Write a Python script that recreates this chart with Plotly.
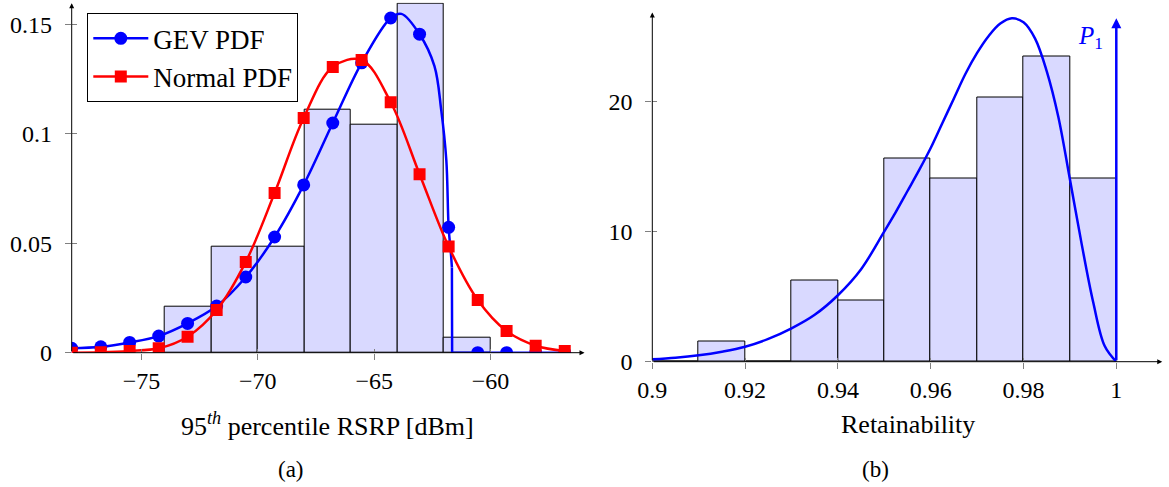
import plotly.graph_objects as go

# ---------------- data: left panel (a) ----------------
rsrp_bin_left = [-74, -72, -70, -68, -66, -64, -62]
rsrp_counts = [3, 7, 7, 16, 15, 23, 1]
rsrp_bin_width = 2
rsrp_total = 72

marker_x = [-78.0, -76.75, -75.51, -74.26, -73.02, -71.77, -70.52, -69.28, -68.03,
            -66.78, -65.54, -64.29, -63.05, -61.80, -60.55, -59.31, -58.06, -56.81]
gev_marker_y = [0.0020, 0.0027, 0.0047, 0.0076, 0.0134, 0.0213, 0.0346, 0.0529, 0.0767,
                0.105, 0.1325, 0.153, 0.1456, 0.0573, 0.0, 0.0, 0.0, 0.0]
normal_marker_y = [0.0000, 0.0002, 0.0008, 0.0020, 0.0073, 0.0195, 0.0415, 0.073, 0.1073,
                   0.1306, 0.1338, 0.1145, 0.0816, 0.0485, 0.0241, 0.0099, 0.0032, 0.0008]

gev_curve_x = [-78.0, -76.75, -75.51, -74.26, -73.02, -71.77, -70.52, -69.28, -68.03,
               -66.78, -65.54, -64.29, -63.83, -63.05, -62.41, -62.12, -61.90, -61.80,
               -61.70, -61.66]
gev_curve_y = [0.0020, 0.0027, 0.0047, 0.0076, 0.0134, 0.0213, 0.0346, 0.0529, 0.0767,
               0.105, 0.1325, 0.153, 0.1549, 0.1456, 0.131, 0.111, 0.088, 0.0573,
               0.045, 0.039]
gev_tail_x = [-61.66, -61.65, -56.81]
gev_tail_y = [0.039, 0.0, 0.0]

# ---------------- data: right panel (b) ----------------
ret_bin_left = [0.90, 0.91, 0.92, 0.93, 0.94, 0.95, 0.96, 0.97, 0.98, 0.99]
ret_counts = [0, 1, 0, 4, 3, 10, 9, 13, 15, 9]
ret_bin_width = 0.01
ret_total = 64

ret_curve_x = [0.9000, 0.9050, 0.9100, 0.9150, 0.9200, 0.9250, 0.9300, 0.9350, 0.9400,
               0.9450, 0.9500, 0.9525, 0.9550, 0.9575, 0.9600, 0.9625, 0.9650, 0.9675,
               0.9700, 0.9725, 0.9750, 0.9775, 0.9800, 0.9825, 0.9850, 0.9875, 0.9900,
               0.9925, 0.9950, 0.9975, 1.0000]
ret_curve_y = [0.18, 0.30, 0.49, 0.77, 1.15, 1.75, 2.56, 3.6, 5.1,
               7.1, 10.0, 11.5, 13.1, 14.7, 16.4, 18.3, 20.2, 22.1,
               23.7, 25.0, 25.95, 26.35, 26.05, 24.8, 22.3, 18.8, 14.0,
               9.1, 4.6, 1.2, 0.0]
p1_height = 26.35

x_ticks_a = [-75, -70, -65, -60]
x_ticktext_a = ["\u221275", "\u221270", "\u221265", "\u221260"]
y_ticks_a = [0, 0.05, 0.1, 0.15]
y_ticktext_a = ["0", "0.05", "0.1", "0.15"]
x_ticks_b = [0.9, 0.92, 0.94, 0.96, 0.98, 1.0]
x_ticktext_b = ["0.9", "0.92", "0.94", "0.96", "0.98", "1"]
y_ticks_b = [0, 10, 20]

BLUE = "rgb(0,0,255)"
RED = "rgb(255,0,0)"
FILL = "rgb(217,217,255)"
FONT = "Liberation Serif"

W, H = 1169, 487


def px(xp):
    return xp / W


def py(yp):
    return (H - yp) / H


fig = go.Figure()

# histograms
fig.add_trace(go.Bar(
    x=[b + rsrp_bin_width / 2 for b in rsrp_bin_left],
    y=[c / rsrp_total / rsrp_bin_width for c in rsrp_counts],
    width=rsrp_bin_width, marker=dict(color=FILL, line=dict(color="black", width=1)),
    showlegend=False, xaxis="x", yaxis="y", hoverinfo="skip"))
fig.add_trace(go.Bar(
    x=[b + ret_bin_width / 2 for b in ret_bin_left],
    y=[c / ret_total / ret_bin_width for c in ret_counts],
    width=ret_bin_width, marker=dict(color=FILL, line=dict(color="black", width=1)),
    showlegend=False, xaxis="x2", yaxis="y2", hoverinfo="skip"))

# GEV curve (a)
fig.add_trace(go.Scatter(x=gev_curve_x, y=gev_curve_y, mode="lines",
                         line=dict(color=BLUE, width=2.5, shape="spline", smoothing=1.0),
                         showlegend=False, xaxis="x", yaxis="y"))
fig.add_trace(go.Scatter(x=gev_tail_x, y=gev_tail_y, mode="lines",
                         line=dict(color=BLUE, width=2.5),
                         showlegend=False, xaxis="x", yaxis="y"))
fig.add_trace(go.Scatter(x=marker_x, y=gev_marker_y, mode="markers",
                         marker=dict(color=BLUE, size=13, symbol="circle"),
                         showlegend=False, xaxis="x", yaxis="y"))
# Normal curve (a)
fig.add_trace(go.Scatter(x=marker_x, y=normal_marker_y, mode="lines+markers",
                         line=dict(color=RED, width=2.5, shape="spline", smoothing=1.0),
                         marker=dict(color=RED, size=12, symbol="square"),
                         showlegend=False, xaxis="x", yaxis="y"))
# legend entries
fig.add_trace(go.Scatter(x=[None], y=[None], mode="lines+markers", name="GEV PDF",
                         line=dict(color=BLUE, width=2.5),
                         marker=dict(color=BLUE, size=13, symbol="circle"),
                         xaxis="x", yaxis="y"))
fig.add_trace(go.Scatter(x=[None], y=[None], mode="lines+markers", name="Normal PDF",
                         line=dict(color=RED, width=2.5),
                         marker=dict(color=RED, size=12, symbol="square"),
                         xaxis="x", yaxis="y"))

# curve (b)
fig.add_trace(go.Scatter(x=ret_curve_x, y=ret_curve_y, mode="lines",
                         line=dict(color=BLUE, width=2.5, shape="spline", smoothing=1.0),
                         showlegend=False, xaxis="x2", yaxis="y2"))

# empty helper traces so the inner-tick overlay axes are drawn
fig.add_trace(go.Scatter(x=[None], y=[None], xaxis="x3", yaxis="y3", showlegend=False,
                         hoverinfo="skip"))
fig.add_trace(go.Scatter(x=[None], y=[None], xaxis="x4", yaxis="y4", showlegend=False,
                         hoverinfo="skip"))

axis_common = dict(showgrid=False, zeroline=False, showline=False, ticks="outside",
                   ticklen=6, tickcolor="gray", tickwidth=1, automargin=False,
                   tickfont=dict(family=FONT, size=24, color="black"))
inner_common = dict(showgrid=False, zeroline=False, showline=False, ticks="inside",
                    ticklen=5, tickcolor="gray", tickwidth=1, automargin=False,
                    showticklabels=False)

x_range_a = [-78, -56]
y_range_a = [0, 0.16]
x_range_b = [0.9, 1.01]
y_range_b = [0, 26.8]

fig.update_layout(
    width=W, height=H, margin=dict(l=0, r=0, t=0, b=0, pad=0), autosize=False,
    font=dict(family=FONT, size=24, color="black"),
    paper_bgcolor="white", plot_bgcolor="white",
    barmode="overlay", bargap=0,
    xaxis=dict(domain=[px(71.7), px(583.6)], range=x_range_a, anchor="y",
               tickvals=x_ticks_a, ticktext=x_ticktext_a, **axis_common),
    yaxis=dict(domain=[py(352.7), py(2.7)], range=y_range_a, anchor="x",
               tickvals=y_ticks_a, ticktext=y_ticktext_a, ticklabelstandoff=8,
               **axis_common),
    xaxis2=dict(domain=[px(652.3), px(1162.7)], range=x_range_b, anchor="y2",
                tickvals=x_ticks_b, ticktext=x_ticktext_b, **axis_common),
    yaxis2=dict(domain=[py(361.7), py(12.5)], range=y_range_b, anchor="x2",
                tickvals=y_ticks_b, ticklabelstandoff=8, **axis_common),
    xaxis3=dict(overlaying="x", anchor="y3", range=x_range_a, tickvals=x_ticks_a,
                ticklen=4, **{k: v for k, v in inner_common.items() if k != "ticklen"}),
    yaxis3=dict(overlaying="y", anchor="x3", range=y_range_a, tickvals=y_ticks_a,
                **inner_common),
    xaxis4=dict(overlaying="x2", anchor="y4", range=x_range_b, tickvals=x_ticks_b,
                ticklen=4, **{k: v for k, v in inner_common.items() if k != "ticklen"}),
    yaxis4=dict(overlaying="y2", anchor="x4", range=y_range_b, tickvals=y_ticks_b,
                **inner_common),
    legend=dict(x=px(87.3), y=py(13.3), xanchor="left", yanchor="top",
                bordercolor="black", borderwidth=1, bgcolor="white", itemwidth=55,
                font=dict(family=FONT, size=27, color="black"), tracegroupgap=0),
    showlegend=True,
)


def arrow(xref, yref, x, y, ax, ay, color="black", width=1, head=2, size=1.0):
    fig.add_annotation(x=x, y=y, ax=ax, ay=ay, xref=xref, yref=yref, axref=xref, ayref=yref,
                       showarrow=True, arrowhead=head, arrowsize=size, arrowwidth=width,
                       arrowcolor=color, text="", standoff=0, startstandoff=0)


# axis arrows
arrow("x", "y", -55.96, 0, -78, 0)
arrow("x", "y", -78, 0.1598, -78, 0)
arrow("x2", "y2", 1.0099, 0, 0.9, 0)
arrow("x2", "y2", 0.9, 26.8, 0.9, 0)
# P1 point-mass arrow
arrow("x2", "y2", 1.0, p1_height, 1.0, 0, color=BLUE, width=2.5, head=2, size=0.8)
fig.add_annotation(x=0.9945, y=24.9, xref="x2", yref="y2", text="<i>P</i><sub>1</sub>",
                   showarrow=False, xanchor="center", yanchor="middle",
                   font=dict(family=FONT, size=25, color=BLUE))

# axis titles and captions
fig.add_annotation(x=px(327), y=py(424), xref="paper", yref="paper",
                   text="95<sup><i>th</i></sup> percentile RSRP [dBm]", showarrow=False,
                   xanchor="center", yanchor="middle",
                   font=dict(family=FONT, size=26, color="black"))
fig.add_annotation(x=px(907.5), y=py(424), xref="paper", yref="paper",
                   text="Retainability", showarrow=False,
                   xanchor="center", yanchor="middle",
                   font=dict(family=FONT, size=26, color="black"))
fig.add_annotation(x=px(291), y=py(469), xref="paper", yref="paper",
                   text="(a)", showarrow=False, xanchor="center", yanchor="middle",
                   font=dict(family=FONT, size=23, color="black"))
fig.add_annotation(x=px(875), y=py(469), xref="paper", yref="paper",
                   text="(b)", showarrow=False, xanchor="center", yanchor="middle",
                   font=dict(family=FONT, size=23, color="black"))

fig.write_html("out.html",
               config={"displayModeBar": False},
               post_script="document.body.style.margin='0px';"
                           "document.body.style.padding='0px';"
                           "document.body.style.overflow='hidden';")
